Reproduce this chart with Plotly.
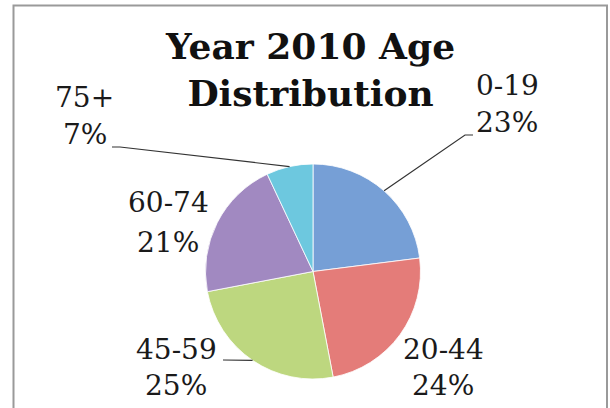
import math
import plotly.graph_objects as go

# ---- data ----
categories = ["0-19", "20-44", "45-59", "60-74", "75+"]
percent_values = [23, 24, 25, 21, 7]
title_lines = ["Year 2010 Age", "Distribution"]

# ---- layout / style ----
W, H = 610, 408
CX, CY, R = 313, 271.5, 107.5          # pie centre and radius, px
slice_colors = ["#769fd6", "#e47c79", "#bdd77f", "#a189c1", "#6dc8df"]
label_lines_y = {                        # (x centre, line-1 centre y, line-2 centre y), px
    "0-19": (507, 85.5, 122),
    "20-44": (443, 349, 385),
    "45-59": (176, 349, 385),
    "60-74": (168, 202.5, 242.5),
    "75+": (85, 97.5, 135),
}
leader_points = {                        # leader line bends, px (from slice edge outward)
    "0-19": [(465, 135), (473, 135)],
    "75+": [(120, 147), (112, 147)],
    "45-59": [(223, 360)],
}
SERIF = "DejaVu Serif"


def px(x):
    return x / W


def py(y):
    return 1 - y / H


fig = go.Figure(
    go.Pie(
        labels=categories,
        values=percent_values,
        sort=False,
        direction="clockwise",
        rotation=0,
        textinfo="none",
        hoverinfo="label+percent",
        marker=dict(colors=slice_colors, line=dict(color="rgba(255,255,255,0.8)", width=1)),
        domain=dict(x=[px(CX - R), px(CX + R)], y=[py(CY + R), py(CY - R)]),
        showlegend=False,
    )
)

annotations = [
    dict(
        text="<b>" + "<br>".join(title_lines) + "</b>",
        x=px(310), y=py(69), xref="paper", yref="paper",
        xanchor="center", yanchor="middle", showarrow=False,
        font=dict(family=SERIF, size=36, color="#111111"),
    )
]
shapes = [
    dict(type="rect", xref="paper", yref="paper",
         x0=px(13.5), x1=px(607), y0=py(440), y1=py(5.5),
         line=dict(color="#9a9a9a", width=2), fillcolor="rgba(0,0,0,0)", layer="below"),
]

total = sum(percent_values)
cum = 0
for cat, val in zip(categories, percent_values):
    mid = 2 * math.pi * (cum + val / 2) / total
    cum += val
    lx, y1, y2 = label_lines_y[cat]
    for txt, yy in ((cat, y1), (f"{val}%", y2)):
        annotations.append(dict(
            text=txt,
            x=px(lx), y=py(yy), xref="paper", yref="paper",
            xanchor="center", yanchor="middle", showarrow=False,
            font=dict(family=SERIF, size=28, color="#1a1a1a"),
        ))
    if cat in leader_points:
        ex = CX + R * math.sin(mid)
        ey = CY - R * math.cos(mid)
        pts = [(ex, ey)] + leader_points[cat]
        path = "M " + " L ".join(f"{px(a):.5f},{py(b):.5f}" for a, b in pts)
        shapes.append(dict(type="path", xref="paper", yref="paper", path=path,
                           line=dict(color="#333333", width=1.2)))

fig.update_layout(
    width=W, height=H,
    margin=dict(l=0, r=0, t=0, b=0),
    paper_bgcolor="white", plot_bgcolor="white",
    annotations=annotations, shapes=shapes,
)

fig.write_html(
    "out.html",
    config={"displayModeBar": False},
    post_script="document.body.style.margin='0';document.body.style.overflow='hidden';",
)
